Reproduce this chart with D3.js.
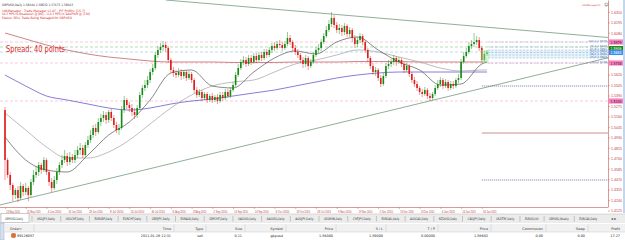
<!DOCTYPE html>
<html>
<head>
<meta charset="utf-8">
<script src="https://cdn.jsdelivr.net/npm/d3@7"></script>
<style>
  body { margin: 0; background: #fff; overflow: hidden; }
  svg { display: block; font-family: "DejaVu Sans", sans-serif; }
</style>
</head>
<body>
<svg id="chart" width="625" height="240"></svg>
<script>
// GBPUSD daily bars, 13 May 2010 .. 28 Jan 2011
const opens = [1.5231,
1.4681,1.4516,1.4406,1.4296,1.4351,1.4263,1.4395,1.4329,1.4373,1.4296,
1.4439,1.4516,1.4549,1.4626,1.4571,1.4681,1.4549,1.4439,1.4373,1.4461,
1.4549,1.4626,1.4681,1.4725,1.4659,1.4714,1.4681,1.4736,1.4791,1.4813,
1.4736,1.4846,1.4901,1.4956,1.5033,1.4989,1.5099,1.5143,1.5176,1.5121,
1.5209,1.5143,1.5066,1.5011,1.5033,1.5231,1.5341,1.5286,1.5253,1.5209,
1.5176,1.5253,1.5396,1.5473,1.5506,1.5561,1.5649,1.5693,1.5836,1.5891,
1.5924,1.5946,1.5913,1.5781,1.5671,1.5638,1.5616,1.5649,1.5605,1.5649,
1.5583,1.5627,1.5561,1.5451,1.5396,1.5429,1.5363,1.5407,1.5341,1.5385,
1.5341,1.5374,1.5330,1.5396,1.5363,1.5429,1.5385,1.5451,1.5506,1.5616,
1.5693,1.5759,1.5781,1.5737,1.5803,1.5759,1.5825,1.5781,1.5836,1.5803,
1.5869,1.5836,1.5891,1.5935,1.5913,1.5957,1.5946,1.5913,1.5957,1.6023,
1.5979,1.5913,1.5869,1.5836,1.5781,1.5737,1.5803,1.5715,1.5759,1.5836,
1.5891,1.5913,1.5979,1.6045,1.6111,1.6177,1.6243,1.6166,1.6111,1.6133,
1.6089,1.6155,1.6067,1.6111,1.6023,1.5957,1.6001,1.6045,1.5979,1.5891,
1.5803,1.5715,1.5649,1.5671,1.5583,1.5517,1.5605,1.5715,1.5737,1.5759,
1.5803,1.5759,1.5781,1.5737,1.5671,1.5715,1.5627,1.5561,1.5517,1.5473,
1.5429,1.5407,1.5451,1.5385,1.5363,1.5407,1.5473,1.5517,1.5561,1.5495,
1.5539,1.5473,1.5517,1.5495,1.5561,1.5583,1.5759,1.5825,1.5869,1.5935,
1.5957,1.5979,1.6001,1.5913,1.5781,1.5847];

const highs = [
1.5264,1.4703,1.4549,1.4428,1.4373,1.4395,1.4439,1.4417,1.4428,1.4395,
1.4472,1.4571,1.4615,1.4659,1.4648,1.4714,1.4703,1.4571,1.4483,1.4505,
1.4593,1.4659,1.4736,1.4791,1.4758,1.4769,1.4747,1.4791,1.4835,1.4868,
1.4846,1.4879,1.4945,1.5011,1.5066,1.5077,1.5143,1.5187,1.5220,1.5209,
1.5231,1.5242,1.5176,1.5099,1.5077,1.5275,1.5385,1.5363,1.5319,1.5297,
1.5253,1.5286,1.5429,1.5506,1.5561,1.5605,1.5682,1.5737,1.5869,1.5935,
1.5968,1.5990,1.5979,1.5935,1.5803,1.5704,1.5671,1.5693,1.5682,1.5671,
1.5671,1.5660,1.5649,1.5583,1.5484,1.5462,1.5451,1.5429,1.5429,1.5407,
1.5418,1.5396,1.5407,1.5429,1.5429,1.5462,1.5462,1.5484,1.5539,1.5649,
1.5737,1.5792,1.5825,1.5814,1.5836,1.5836,1.5858,1.5858,1.5869,1.5869,
1.5902,1.5902,1.5924,1.5968,1.5979,1.5990,1.6001,1.5979,1.5990,1.6089,
1.6056,1.6001,1.5946,1.5902,1.5858,1.5814,1.5836,1.5825,1.5792,1.5869,
1.5924,1.5957,1.6012,1.6078,1.6155,1.6221,1.6309,1.6276,1.6199,1.6177,
1.6166,1.6188,1.6177,1.6144,1.6133,1.6056,1.6034,1.6078,1.6067,1.6001,
1.5913,1.5825,1.5748,1.5704,1.5693,1.5616,1.5638,1.5748,1.5781,1.5792,
1.5836,1.5825,1.5814,1.5803,1.5759,1.5748,1.5737,1.5649,1.5594,1.5550,
1.5495,1.5462,1.5484,1.5473,1.5418,1.5429,1.5506,1.5561,1.5594,1.5583,
1.5572,1.5561,1.5550,1.5550,1.5583,1.5627,1.5792,1.5869,1.5913,1.5979,
1.6001,1.6078,1.6045,1.6034,1.5935,1.5880,1.5891];

const lows = [
1.4461,1.4483,1.4351,1.4230,1.4252,1.4219,1.4241,1.4285,1.4296,1.4226,
1.4274,1.4406,1.4483,1.4505,1.4527,1.4549,1.4516,1.4395,1.4329,1.4351,
1.4417,1.4516,1.4593,1.4648,1.4615,1.4626,1.4648,1.4648,1.4703,1.4736,
1.4703,1.4714,1.4813,1.4868,1.4923,1.4945,1.4967,1.5055,1.5099,1.5077,
1.5088,1.5110,1.5033,1.4978,1.4956,1.5011,1.5198,1.5242,1.5209,1.5165,
1.5132,1.5143,1.5231,1.5363,1.5440,1.5473,1.5528,1.5616,1.5671,1.5803,
1.5858,1.5880,1.5869,1.5748,1.5638,1.5594,1.5583,1.5594,1.5561,1.5572,
1.5550,1.5561,1.5528,1.5418,1.5363,1.5374,1.5330,1.5341,1.5308,1.5319,
1.5308,1.5319,1.5297,1.5308,1.5330,1.5341,1.5363,1.5363,1.5429,1.5484,
1.5594,1.5671,1.5726,1.5704,1.5715,1.5726,1.5737,1.5748,1.5759,1.5770,
1.5781,1.5803,1.5814,1.5858,1.5880,1.5891,1.5913,1.5880,1.5891,1.5935,
1.5946,1.5880,1.5836,1.5803,1.5748,1.5693,1.5704,1.5671,1.5693,1.5737,
1.5814,1.5858,1.5880,1.5957,1.6023,1.6089,1.6144,1.6133,1.6078,1.6067,
1.6045,1.6056,1.6034,1.6034,1.5979,1.5913,1.5924,1.5968,1.5946,1.5858,
1.5759,1.5682,1.5616,1.5605,1.5550,1.5484,1.5495,1.5583,1.5682,1.5704,
1.5726,1.5715,1.5737,1.5704,1.5638,1.5649,1.5594,1.5528,1.5484,1.5440,
1.5396,1.5374,1.5385,1.5352,1.5330,1.5341,1.5385,1.5451,1.5484,1.5462,
1.5473,1.5440,1.5451,1.5462,1.5473,1.5528,1.5561,1.5737,1.5803,1.5847,
1.5902,1.5924,1.5946,1.5880,1.5748,1.5759,1.5825];

const closes = [
1.4681,1.4516,1.4406,1.4296,1.4351,1.4263,1.4395,1.4329,1.4373,1.4296,
1.4439,1.4516,1.4549,1.4626,1.4571,1.4681,1.4549,1.4439,1.4373,1.4461,
1.4549,1.4626,1.4681,1.4725,1.4659,1.4714,1.4681,1.4736,1.4791,1.4813,
1.4736,1.4846,1.4901,1.4956,1.5033,1.4989,1.5099,1.5143,1.5176,1.5121,
1.5209,1.5143,1.5066,1.5011,1.5033,1.5231,1.5341,1.5286,1.5253,1.5209,
1.5176,1.5253,1.5396,1.5473,1.5506,1.5561,1.5649,1.5693,1.5836,1.5891,
1.5924,1.5946,1.5913,1.5781,1.5671,1.5638,1.5616,1.5649,1.5605,1.5649,
1.5583,1.5627,1.5561,1.5451,1.5396,1.5429,1.5363,1.5407,1.5341,1.5385,
1.5341,1.5374,1.5330,1.5396,1.5363,1.5429,1.5385,1.5451,1.5506,1.5616,
1.5693,1.5759,1.5781,1.5737,1.5803,1.5759,1.5825,1.5781,1.5836,1.5803,
1.5869,1.5836,1.5891,1.5935,1.5913,1.5957,1.5946,1.5913,1.5957,1.6023,
1.5979,1.5913,1.5869,1.5836,1.5781,1.5737,1.5803,1.5715,1.5759,1.5836,
1.5891,1.5913,1.5979,1.6045,1.6111,1.6177,1.6243,1.6166,1.6111,1.6133,
1.6089,1.6155,1.6067,1.6111,1.6023,1.5957,1.6001,1.6045,1.5979,1.5891,
1.5803,1.5715,1.5649,1.5671,1.5583,1.5517,1.5605,1.5715,1.5737,1.5759,
1.5803,1.5759,1.5781,1.5737,1.5671,1.5715,1.5627,1.5561,1.5517,1.5473,
1.5429,1.5407,1.5451,1.5385,1.5363,1.5407,1.5473,1.5517,1.5561,1.5495,
1.5539,1.5473,1.5517,1.5495,1.5561,1.5583,1.5759,1.5825,1.5869,1.5935,
1.5957,1.5979,1.6001,1.5913,1.5781,1.5847,1.5864];

// moving averages, sampled every 8 bars (last point = last bar)
const maBars = [0,8,16,24,32,40,48,56,64,72,80,88,96,104,112,120,128,136,144,152,160,168,176,184,186];
const maFast = [1.4934,1.4681,1.4571,1.4549,1.4736,1.4956,1.5099,1.5341,1.5638,1.5671,1.5495,1.5473,1.5649,1.5803,1.5880,1.5847,1.5979,1.6034,1.5891,1.5759,1.5671,1.5506,1.5517,1.5737,1.5759];
const maSlow = [1.5198,1.5011,1.4824,1.4703,1.4703,1.4769,1.4901,1.5077,1.5253,1.5396,1.5495,1.5539,1.5561,1.5649,1.5737,1.5781,1.5836,1.5891,1.5869,1.5814,1.5759,1.5693,1.5660,1.5671,1.5671];
const ma100 = [1.5616,1.5495,1.5385,1.5341,1.5297,1.5253,1.5231,1.5253,1.5297,1.5330,1.5352,1.5385,1.5418,1.5451,1.5495,1.5539,1.5583,1.5616,1.5638,1.5649,1.5649,1.5649,1.5649,1.5649,1.5649];
const ma200 = [1.6078,1.6012,1.5946,1.5891,1.5847,1.5814,1.5792,1.5770,1.5759,1.5759,1.5759,1.5754,1.5754,1.5754,1.5759,1.5759,1.5759,1.5764,1.5764,1.5764,1.5759,1.5759,1.5759,1.5759,1.5759];

const timeBars = [0,8,16,24,32,40,48,56,64,72,80,88,96,104,112,120,128,136,144,152,160,168,176,184];
const timeLabels = ["13 May 2010","25 May 2010","4 Jun 2010","16 Jun 2010","28 Jun 2010","8 Jul 2010",
  "20 Jul 2010","30 Jul 2010","11 Aug 2010","23 Aug 2010","2 Sep 2010","14 Sep 2010","24 Sep 2010",
  "6 Oct 2010","18 Oct 2010","28 Oct 2010","9 Nov 2010","19 Nov 2010","1 Dec 2010","13 Dec 2010",
  "23 Dec 2010","4 Jan 2011","14 Jan 2011","26 Jan 2011"];
const priceTicks = [1.6310,1.6195,1.6080,1.5620,1.5505,1.5390,1.5275,1.5160,1.5045,1.4930,1.4815,1.4700,1.4585,1.4470,1.4355,1.4240,1.4125];

// trend lines (bar, price) pairs
const downTrendBars = [62, 233], downTrendPrices = [1.6441, 1.6028];
const upTrendBars = [-2, 233], upTrendPrices = [1.4186, 1.5807];

// horizontal levels across the chart
const levelPrices = [1.5979, 1.5924, 1.5869, 1.5748, 1.5330];
const levelKinds = ["pink", "green", "teal", "pink", "pink"];
// trade manager lines from the order bar
const tradeBar = 184;
const tradePrices = [1.5495, 1.4978, 1.4461];
const tradeKinds = ["dot", "solid", "dot"];
// fibonacci block at the right
const fibPrices = [1.5979, 1.5925, 1.5891, 1.5864, 1.5836, 1.5803, 1.5748];
const fibLabels = ["100.0  1.5979", "76.4  1.5925", "61.8  1.5891", "50.0  1.5864", "38.2  1.5836", "23.6  1.5803", "0.0  1.5748"];
// coloured marks on the price scale
const markPrices = [1.5979, 1.5906, 1.5864, 1.5748, 1.5330];
const markKinds = ["pink", "green", "blue", "pink", "pink"];

const infoLines = ["GBPUSD,Daily  1.58644 1.58832 1.57675 1.58643",
  "10XManager - Trade Manager v1.07 - P/F Profits: [15.7]",
  "64.3 PIPS to Breakeven @ [80] - 114.3 PIPS to TakeProfit @ [130]",
  "Status: SELL Trade Being Managed for GBPUSD"];
const tabs = ["GBPUSD,Daily","USDJPY,Daily","USDCHF,Daily","EURGBP,Daily","EURCHF,Daily","GBPJPY,Daily",
  "EURAUD,Daily","GBPCHF,Daily","XAGUSD,Daily","XAUUSD,Daily","AUDJPY,Daily","USDMXN,Daily","CHFJPY,Daily",
  "EURCAD,Daily","AUDCAD,Daily","NZDUSD,Daily","CADJPY,Daily","USDTRY,Daily","EURUSD,H4","GBPUSD,Weekly","EURCAD,Daily"];
const orderHeaders = ["Order","Time","Type","Size","Symbol","Price","S / L","T / P","Price","Commission","Swap","Profit"];
const orderRow = ["99126057","2011.01.26 12:31","sell","0.11","gbpusd","1.58000","1.59000","0.00000","1.58643","0.00","0.00","17.27"];

const plotR = 608, plotB = 207;
const fg = "#c83c3c";
const svg = d3.select("#chart");

const x = d3.scaleLinear().domain([0, 186]).range([5, 487]);
const y = d3.scaleLinear().domain([1.4164, 1.6441]).range([plotB, 0]);

svg.append("rect").attr("width", 625).attr("height", 240).attr("fill", "#fff");
svg.append("defs").append("clipPath").attr("id", "plot")
  .append("rect").attr("width", plotR).attr("height", plotB);

const plot = svg.append("g").attr("clip-path", "url(#plot)");

const levelStyle = {
  pink: {stroke: "#f0a8c8", dash: "3,2"},
  green: {stroke: "#88c488", dash: "3,2"},
  teal: {stroke: "#90c0dc", dash: "3,2"}
};
plot.selectAll(".level").data(levelPrices).join("line")
  .attr("x1", 0).attr("x2", plotR)
  .attr("y1", d => y(d)).attr("y2", d => y(d))
  .attr("stroke", (d, i) => levelStyle[levelKinds[i]].stroke)
  .attr("stroke-dasharray", (d, i) => levelStyle[levelKinds[i]].dash)
  .attr("stroke-width", 0.6);

// fib zone
plot.append("rect")
  .attr("x", x(186) + 1).attr("width", plotR - x(186) - 1)
  .attr("y", y(fibPrices[2])).attr("height", y(fibPrices[5]) - y(fibPrices[2]))
  .attr("fill", "#dcf0fa").attr("opacity", 0.7);
plot.selectAll(".fib").data(fibPrices).join("line")
  .attr("x1", x(186) + 1).attr("x2", plotR)
  .attr("y1", d => y(d)).attr("y2", d => y(d))
  .attr("stroke", (d, i) => i == fibPrices.length - 1 ? "#9080d0" : "#8aa4cc")
  .attr("stroke-dasharray", "2,1.5").attr("stroke-width", 0.5);
plot.selectAll(".fibtxt").data(fibLabels).join("text")
  .attr("x", plotR - 1).attr("y", (d, i) => y(fibPrices[i]) - 0.4)
  .attr("text-anchor", "end").attr("font-size", 2.8).attr("fill", "#4a78b8")
  .text(d => d);

plot.selectAll(".trade").data(tradePrices).join("line")
  .attr("x1", x(tradeBar)).attr("x2", plotR)
  .attr("y1", d => y(d)).attr("y2", d => y(d))
  .attr("stroke", (d, i) => tradeKinds[i] == "solid" ? "#b86060" : "#404088")
  .attr("stroke-dasharray", (d, i) => tradeKinds[i] == "solid" ? null : "1,1")
  .attr("stroke-width", 0.7);

// trend lines
const trend = d3.line().x(d => x(d[0])).y(d => y(d[1]));
[[downTrendBars, downTrendPrices], [upTrendBars, upTrendPrices]].forEach(function(t) {
  plot.append("path")
    .attr("d", trend(d3.zip(t[0], t[1])))
    .attr("fill", "none").attr("stroke", "#5f8c6a").attr("stroke-width", 0.7);
});

// moving averages
const maLine = d3.line().x((d, i) => x(maBars[i])).y(d => y(d)).curve(d3.curveMonotoneX);
[[ma200, "#c06464", 0.8], [ma100, "#6a5ccc", 0.8], [maSlow, "#a0a0a0", 0.7], [maFast, "#555555", 0.7]].forEach(function(m) {
  plot.append("path").attr("d", maLine(m[0]))
    .attr("fill", "none").attr("stroke", m[1]).attr("stroke-width", m[2]);
});

// candles
const bars = closes.map(function(c, i) { return {i: i, o: opens[i], h: highs[i], l: lows[i], c: c}; });
const colour = d => d.c >= d.o ? "#158a15" : "#e01c1c";
plot.selectAll(".wick").data(bars).join("line")
  .attr("x1", d => x(d.i)).attr("x2", d => x(d.i))
  .attr("y1", d => y(d.h)).attr("y2", d => y(d.l))
  .attr("stroke", colour).attr("stroke-opacity", 0.75).attr("stroke-width", 0.6);
plot.selectAll(".body").data(bars).join("rect")
  .attr("x", d => x(d.i) - 0.8).attr("width", 1.6)
  .attr("y", d => y(Math.max(d.o, d.c)))
  .attr("height", d => Math.max(0.6, Math.abs(y(d.o) - y(d.c))))
  .attr("fill", colour);

// highlight box round the last bars
plot.append("rect")
  .attr("x", x(183.5)).attr("width", x(186.6) - x(183.5))
  .attr("y", y(1.5891)).attr("height", y(1.5748) - y(1.5891))
  .attr("fill", "#9be89b").attr("opacity", 0.45);

// frame
svg.append("line").attr("x1", 0).attr("x2", plotR).attr("y1", plotB + 0.5).attr("y2", plotB + 0.5)
  .attr("stroke", "#d08080").attr("stroke-width", 0.8);

// price axis
const yAxis = svg.append("g").attr("transform", `translate(${plotR},0)`)
  .call(d3.axisRight(y).tickValues(priceTicks).tickFormat(d3.format(".4f")).tickSize(2).tickSizeOuter(0).tickPadding(1));
yAxis.select(".domain").attr("stroke", "#d08080").attr("stroke-width", 0.8);
yAxis.selectAll(".tick line").attr("stroke", "#d08080").attr("stroke-width", 0.6);
yAxis.selectAll(".tick text").attr("fill", fg).attr("font-size", 4)
  .attr("textLength", 11).attr("lengthAdjust", "spacingAndGlyphs");

// coloured price marks
const markFill = {pink: "#ff7fc4", green: "#128a12", blue: "#3a8ef0"};
const marks = svg.selectAll(".mark").data(markPrices).join("g")
  .attr("transform", d => `translate(${plotR + 1},${y(d)})`);
marks.append("rect").attr("x", 0).attr("y", -2.6).attr("width", 14).attr("height", 5.2)
  .attr("fill", (d, i) => markFill[markKinds[i]]);
marks.append("text").attr("x", 1.5).attr("y", 1.5).attr("font-size", 4)
  .attr("textLength", 11).attr("lengthAdjust", "spacingAndGlyphs")
  .attr("fill", (d, i) => markKinds[i] == "pink" ? "#222" : "#fff")
  .text(d => d3.format(".4f")(d));

// time axis
const xAxis = svg.append("g").attr("transform", `translate(0,${plotB})`)
  .call(d3.axisBottom(x).tickValues(timeBars).tickFormat((d, i) => timeLabels[i]).tickSize(2).tickSizeOuter(0).tickPadding(1));
xAxis.select(".domain").remove();
xAxis.selectAll(".tick line").attr("stroke", "#d08080").attr("stroke-width", 0.6);
xAxis.selectAll(".tick text").attr("fill", fg).attr("font-size", 3.8)
  .attr("text-anchor", "start").attr("x", 0.8)
  .attr("textLength", 13.5).attr("lengthAdjust", "spacingAndGlyphs");

// right window edge
svg.append("rect").attr("x", 623).attr("y", 0).attr("width", 2).attr("height", 213).attr("fill", "#c4d6ec");

// chart texts
const infoLen = [71, 83, 88, 70];
const infoY = [5.5, 12, 15.4, 18.8];
svg.selectAll(".info").data(infoLines).join("text")
  .attr("x", 2).attr("y", (d, i) => infoY[i])
  .attr("font-size", 3.2).attr("fill", (d, i) => i == 0 ? "#333" : "#d42a2a")
  .attr("textLength", (d, i) => infoLen[i]).attr("lengthAdjust", "spacingAndGlyphs")
  .text(d => d);
svg.append("text").attr("x", 6).attr("y", 51.5).attr("font-size", 8.5)
  .attr("fill", "#e02828").attr("textLength", 59).attr("lengthAdjust", "spacingAndGlyphs")
  .text("Spread: 40 points");
svg.append("text").attr("x", 582).attr("y", 5.5).attr("font-size", 2.4).attr("fill", "#d03c3c")
  .text("10XManager(2)");
svg.append("text").attr("x", 604.2).attr("y", 5.8).attr("font-size", 4).attr("fill", "#555").text("\u263A");

// symbol tabs
const tabBar = svg.append("g");
tabBar.append("rect").attr("x", 0).attr("y", 214).attr("width", 625).attr("height", 9).attr("fill", "#ececec");
tabBar.append("line").attr("x1", 0).attr("x2", 625).attr("y1", 214).attr("y2", 214).attr("stroke", "#b8b8b8").attr("stroke-width", 0.5);
const tabW = d => d.length * 1.5;
let tx = 5;
const tabX = tabs.map(function(t, i) { const p = tx; tx += tabW(t) + (i == 0 ? 14 : 10.7); return p; });
tabBar.append("rect").attr("x", 1).attr("y", 213.5).attr("width", tabW(tabs[0]) + 10).attr("height", 9)
  .attr("fill", "#fff").attr("stroke", "#a0a0a0").attr("stroke-width", 0.5);
tabBar.selectAll(".tab").data(tabs).join("text")
  .attr("x", (d, i) => tabX[i]).attr("y", 220.2)
  .attr("font-size", 3.3).attr("fill", "#333")
  .attr("textLength", tabW).attr("lengthAdjust", "spacingAndGlyphs")
  .text(d => d);
tabBar.selectAll(".sep").data(tabs.slice(1)).join("line")
  .attr("x1", (d, i) => tabX[i + 1] - 5).attr("x2", (d, i) => tabX[i + 1] - 5)
  .attr("y1", 216).attr("y2", 221.5).attr("stroke", "#999").attr("stroke-width", 0.5);
tabBar.append("text").attr("x", 611).attr("y", 220.3).attr("font-size", 4).attr("fill", "#444").text("\u25C2 \u25B8");

// terminal order table
const colRight = [null, 171, 203, 242, 283, 333, 383, 435, 488, 543, 585, 620];
const table = svg.append("g");
table.append("rect").attr("x", 0).attr("y", 223).attr("width", 625).attr("height", 17).attr("fill", "#fff");
table.append("rect").attr("x", 5).attr("y", 224).attr("width", 620).attr("height", 8).attr("fill", "#f1f1f1");
table.append("line").attr("x1", 5).attr("x2", 625).attr("y1", 232).attr("y2", 232).attr("stroke", "#c8c8c8").attr("stroke-width", 0.5);
table.append("rect").attr("x", 0).attr("y", 223).attr("width", 4).attr("height", 17)
  .attr("fill", "#d6e0ee").attr("stroke", "#9aaac4").attr("stroke-width", 0.5);
table.selectAll(".csep").data(colRight.slice(1, -1)).join("line")
  .attr("x1", d => d + 3).attr("x2", d => d + 3).attr("y1", 224.5).attr("y2", 231.5)
  .attr("stroke", "#c4c4c4").attr("stroke-width", 0.5);
table.append("line").attr("x1", 34).attr("x2", 34).attr("y1", 224.5).attr("y2", 231.5)
  .attr("stroke", "#c4c4c4").attr("stroke-width", 0.5);
table.selectAll(".hd").data(orderHeaders).join("text")
  .attr("x", (d, i) => i == 0 ? 10 : colRight[i]).attr("y", 229.5)
  .attr("text-anchor", (d, i) => i == 0 ? "start" : "end")
  .attr("font-size", 3.4).attr("fill", "#333").text(d => d);
table.append("text").attr("x", 19.5).attr("y", 229.6).attr("font-size", 3).attr("fill", "#666").text("\u25BD");
table.append("rect").attr("x", 11.5).attr("y", 233.5).attr("width", 4).attr("height", 4).attr("rx", 0.8)
  .attr("fill", "#e2702c").attr("stroke", "#a04010").attr("stroke-width", 0.4);
table.selectAll(".rw").data(orderRow).join("text")
  .attr("x", (d, i) => i == 0 ? 17 : colRight[i]).attr("y", 237.4)
  .attr("text-anchor", (d, i) => i == 0 ? "start" : "end")
  .attr("font-size", 3.4).attr("fill", "#222").text(d => d);
</script>
</body>
</html>
